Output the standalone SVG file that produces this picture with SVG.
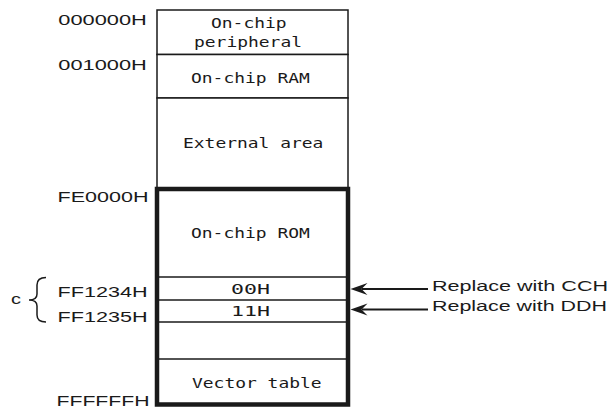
<svg xmlns="http://www.w3.org/2000/svg" width="608" height="408" viewBox="0 0 608 408">
  <style>
    .cell { fill: #ffffff; stroke: #1a1a1a; stroke-width: 1.5; }
    .thick { fill: none; stroke: #1a1a1a; stroke-width: 4.5; }
    .div { stroke: #1a1a1a; stroke-width: 1.5; fill: none; }
    .mono { font-family: "DejaVu Sans Mono", "Liberation Mono", monospace; font-size: 14px; fill: #1a1a1a; }
    .addr { font-family: "Liberation Sans", Arial, sans-serif; font-size: 14px; fill: #1a1a1a; }
    .conn { stroke: #1a1a1a; stroke-width: 1.8; fill: none; }
    .head { fill: #1a1a1a; stroke: none; }
  </style>
  <defs>
    <path id="ah" d="M0,0 L17,-6 L11,0 L17,6 Z"/>
  </defs>
  <rect width="608" height="408" fill="#ffffff"/>

  <g id="peripheral">
    <rect class="cell" x="157" y="10" width="191" height="44.5"/>
    <text class="mono" x="211" y="28.3" textLength="75.6" lengthAdjust="spacingAndGlyphs">On-chip</text>
    <text class="mono" x="194" y="46.5" textLength="108" lengthAdjust="spacingAndGlyphs">peripheral</text>
  </g>
  <g id="ram">
    <rect class="cell" x="157" y="54.5" width="191" height="43.5"/>
    <text class="mono" x="191" y="83.3" textLength="118.8" lengthAdjust="spacingAndGlyphs">On-chip RAM</text>
  </g>
  <g id="external">
    <rect class="cell" x="157" y="98" width="191" height="91"/>
    <text class="mono" x="183" y="147.7" textLength="140.4" lengthAdjust="spacingAndGlyphs">External area</text>
  </g>
  <g id="rom">
    <line class="div" x1="157" y1="277" x2="348" y2="277"/>
    <text class="mono" x="191" y="238.3" textLength="118.8" lengthAdjust="spacingAndGlyphs">On-chip ROM</text>
  </g>
  <g id="byte00">
    <line class="div" x1="157" y1="300" x2="348" y2="300"/>
    <text class="mono" x="231" y="294.3" textLength="39" lengthAdjust="spacingAndGlyphs">00H</text>
  </g>
  <g id="byte11">
    <line class="div" x1="157" y1="322" x2="348" y2="322"/>
    <text class="mono" x="231" y="315.7" textLength="39" lengthAdjust="spacingAndGlyphs">11H</text>
  </g>
  <g id="blank">
    <line class="div" x1="157" y1="359" x2="348" y2="359"/>
  </g>
  <g id="vector">
    <text class="mono" x="192" y="387.7" textLength="129.6" lengthAdjust="spacingAndGlyphs">Vector table</text>
  </g>
  <g id="rom-frame">
    <rect class="thick" x="157" y="189" width="191" height="215.5"/>
  </g>

  <g id="addresses">
    <text class="addr" x="58.3" y="25" textLength="88.5" lengthAdjust="spacingAndGlyphs">000000H</text>
    <text class="addr" x="58.3" y="70" textLength="88.5" lengthAdjust="spacingAndGlyphs">001000H</text>
    <text class="addr" x="57.5" y="201.7" textLength="91" lengthAdjust="spacingAndGlyphs">FE0000H</text>
    <text class="addr" x="57.5" y="297.3" textLength="90" lengthAdjust="spacingAndGlyphs">FF1234H</text>
    <text class="addr" x="57.5" y="321.7" textLength="90" lengthAdjust="spacingAndGlyphs">FF1235H</text>
    <text class="addr" x="56.5" y="406" textLength="93" lengthAdjust="spacingAndGlyphs">FFFFFFH</text>
  </g>

  <g id="brace">
    <path class="div" d="M46,277.5 Q37,277.5 37,285 L37,294 Q37,300 29,300 Q37,300 37,306 L37,315 Q37,322 46,322"/>
    <text class="addr" x="11" y="304" textLength="10" lengthAdjust="spacingAndGlyphs">c</text>
  </g>

  <g id="connectors">
    <line class="conn" x1="362" y1="289" x2="428" y2="289"/>
    <use href="#ah" class="head" x="350.5" y="289"/>
    <line class="conn" x1="362" y1="309.5" x2="428" y2="309.5"/>
    <use href="#ah" class="head" x="350.5" y="309.5"/>
  </g>

  <g id="notes">
    <text class="addr" x="432" y="290.5" textLength="176" lengthAdjust="spacingAndGlyphs">Replace with CCH</text>
    <text class="addr" x="432" y="311" textLength="175" lengthAdjust="spacingAndGlyphs">Replace with DDH</text>
  </g>
</svg>
